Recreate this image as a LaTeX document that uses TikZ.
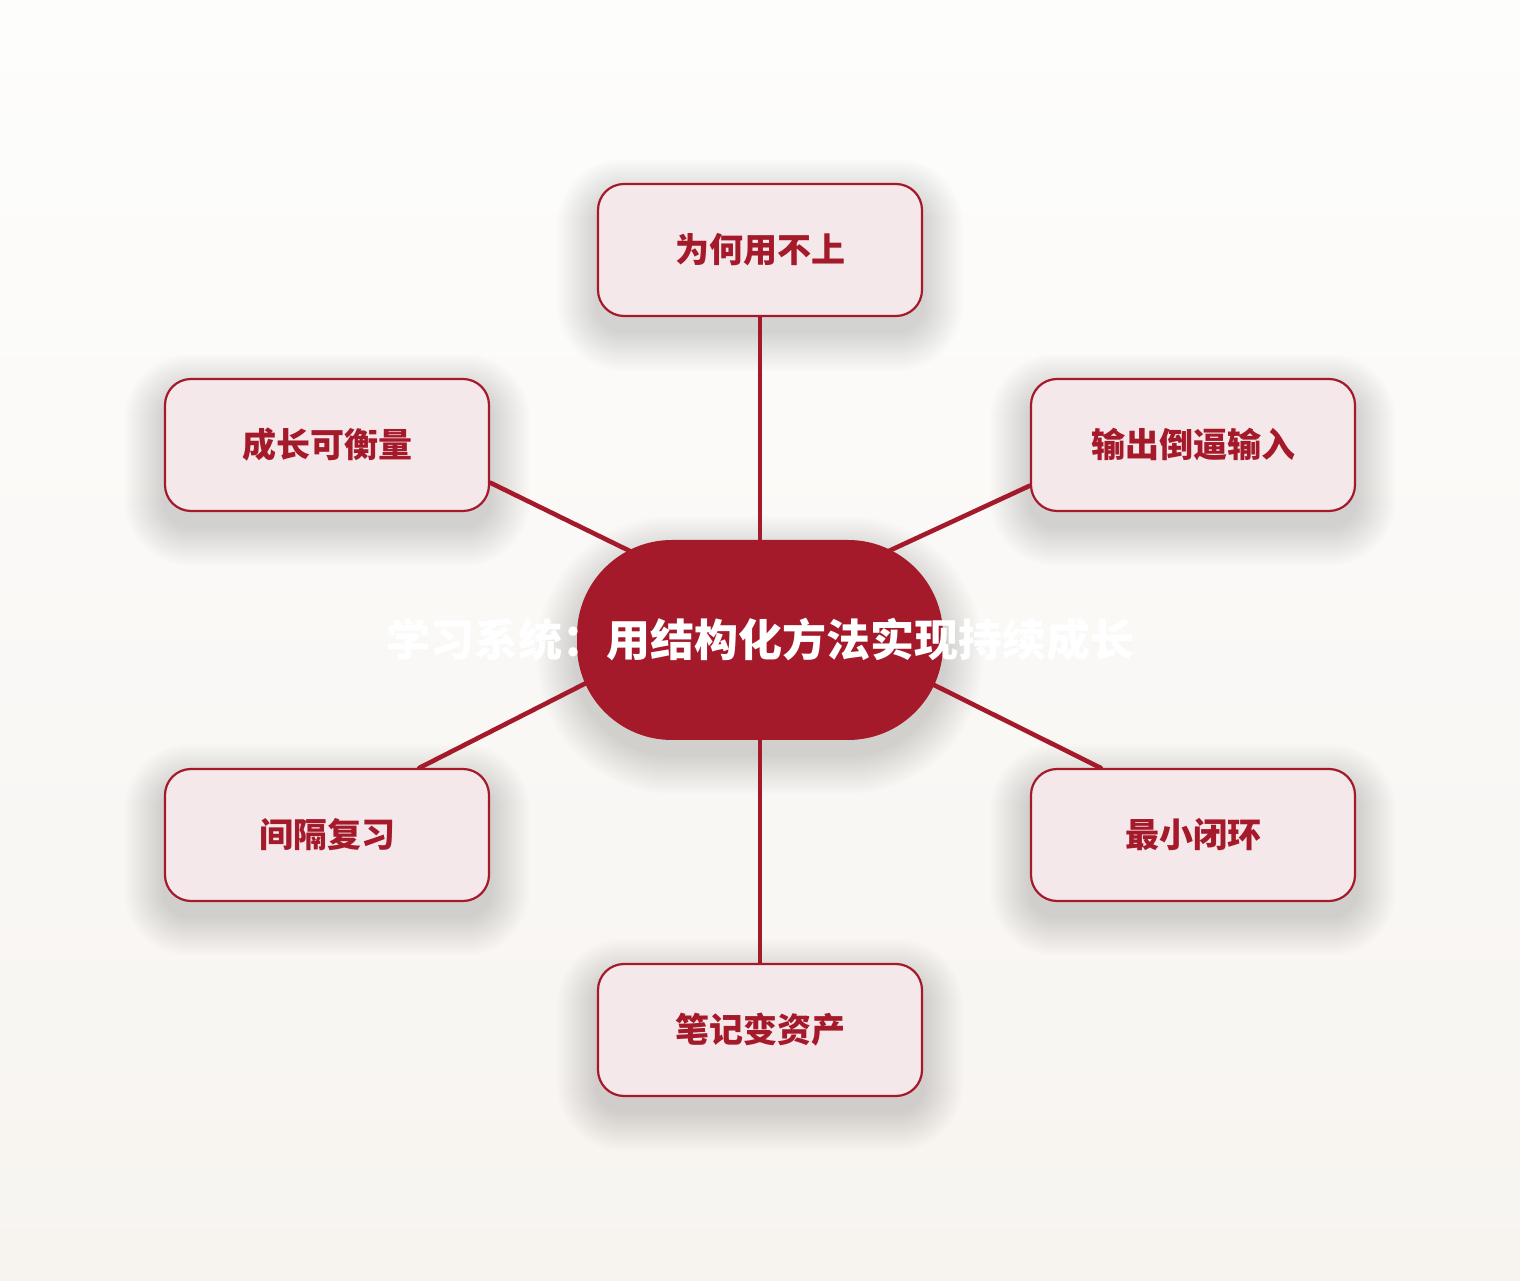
\documentclass[tikz,border=0pt]{standalone}
\usepackage{fontspec}
\setmainfont{Noto Sans CJK SC}
\usetikzlibrary{calc,backgrounds}
\definecolor{crimson}{HTML}{A51A2A}
\definecolor{blush}{HTML}{F5E8EB}
\definecolor{paperTop}{HTML}{FDFDFC}
\definecolor{paperBot}{HTML}{F7F4F0}
\tikzset{
  leaf/.style={draw=crimson,line width=2.2pt,fill=blush,rounded corners=26pt,
    minimum width=324pt,minimum height=132pt,text=crimson,
    font=\fontsize{34pt}{40pt}\selectfont\bfseries},
  hubnode/.style={fill=crimson,rounded corners=95pt,minimum width=366pt,
    minimum height=200pt,text=white,font=\fontsize{44pt}{52pt}\selectfont\bfseries},
  link/.style={crimson,line width=4.6pt,line cap=round},
  haze/.style={black,opacity=0.0075},
}

\begin{document}
\begin{tikzpicture}[x=1pt,y=1pt]
    \useasboundingbox (0,0) rectangle (1520,1280);

    \node[hubnode] (hub) at (760,640) {\makebox[0pt]{\raisebox{-2pt}{学习系统：用结构化方法实现持续成长}}};

    \node[leaf] (why) at (760,1030) {为何用不上};
    \node[leaf] (grow) at (327,835) {成长可衡量};
    \node[leaf] (force) at (1193,835) {输出倒逼输入};
    \node[leaf] (review) at (327,445) {间隔复习};
    \node[leaf] (closed) at (1193,445) {最小闭环};
    \node[leaf] (notes) at (760,250) {笔记变资产};

    \begin{scope}[on background layer]
      \shade[top color=paperTop,bottom color=paperBot](0,0) rectangle (1520,1280);

      % soft shadows
      \foreach \n in {why,grow,force,review,closed,notes}
        \foreach \e in {2,4,...,40}
          \fill[haze,rounded corners={26pt+\e pt}]
            ($(\n.south west)+(-\e,-\e-14)$) rectangle ($(\n.north east)+(\e,\e-16)$);
      \foreach \e in {2,4,...,40}
        \fill[haze,rounded corners={95pt+\e pt}]
          ($(hub.south west)+(-\e,-\e-14)$) rectangle ($(hub.north east)+(\e,\e-16)$);

      \draw[link](why.south)--(hub.center);
      \draw[link](notes.north)--(hub.center);
      \draw[link](grow.-13.5)--($(hub.center)+(-118,83)$);
      \draw[link](force.194)--($(hub.center)+(118,84)$);
      \draw[link](review.36)--($(hub.center)+(-162,-37)$);
      \draw[link](closed.144)--($(hub.center)+(162,-39)$);
    \end{scope}
  \end{tikzpicture}
\end{document}
